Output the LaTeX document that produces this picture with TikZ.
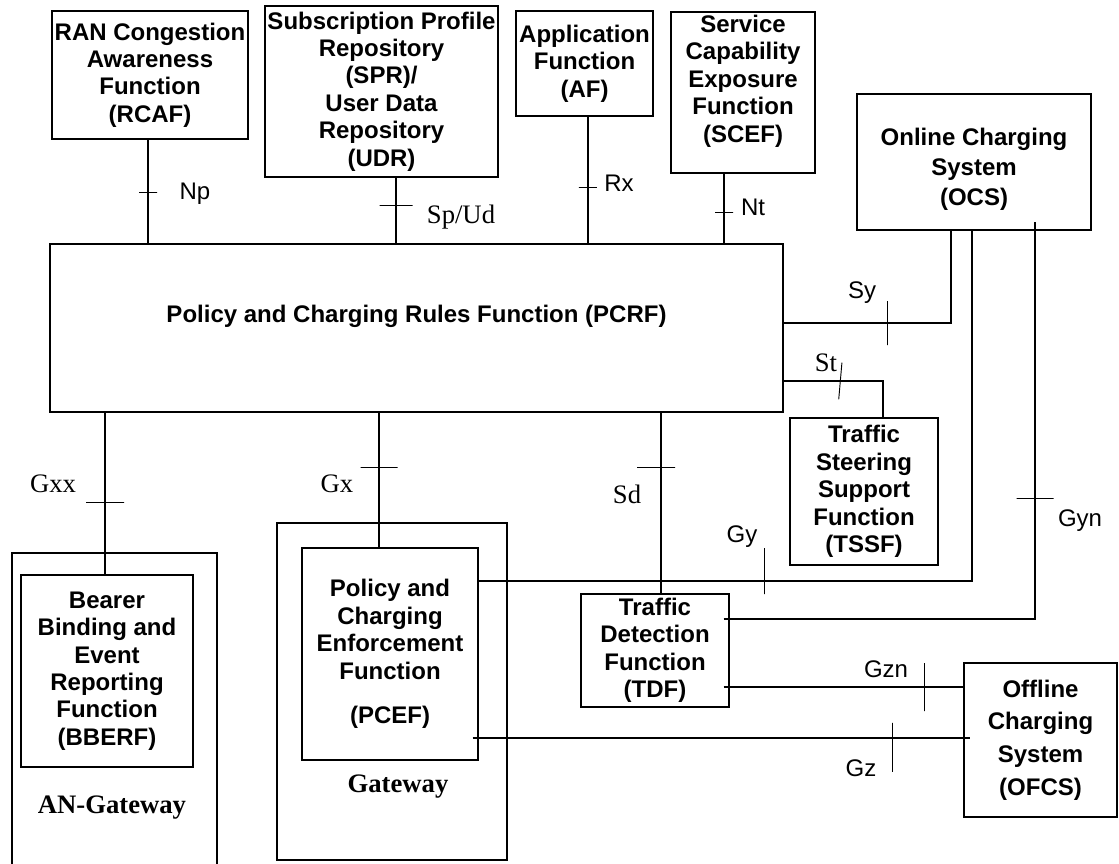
\documentclass[tikz,border=0pt]{standalone}
\usepackage{fontspec}
\setmainfont{Liberation Serif}
\setsansfont{Liberation Sans}
\usepackage{tikz}
\usetikzlibrary{positioning}

\begin{document}
\begin{tikzpicture}[x=0.75pt, y=-0.75pt,
    fn/.style={draw, line width=1.1pt, align=center, inner sep=0pt,
        font=\sffamily\bfseries\fontsize{18}{20.6}\selectfont},
    gwbox/.style={draw, line width=1.1pt, inner sep=0pt},
    link/.style={line width=1.1pt},
    sylink/.style={line width=2.2pt},
    ifs/.style={font=\sffamily\fontsize{18}{20}\selectfont, inner sep=0pt},
    ifr/.style={font=\rmfamily\fontsize{20}{24}\selectfont, inner sep=0pt},
    gwname/.style={font=\rmfamily\bfseries\fontsize{20}{24}\selectfont, inner sep=0pt},
    tickh/.style={draw, line width=0.7pt, minimum width=#1, minimum height=0pt, inner sep=0pt, outer sep=0pt},
    tickv/.style={draw, line width=0.7pt, minimum height=#1, minimum width=0pt, inner sep=0pt, outer sep=0pt}]
                    \useasboundingbox (0,0) rectangle (1119,863);
                    \clip (0,0) rectangle (1119,863);
                    % functions above the PCRF
                    \node [fn, minimum width=147pt, minimum height=96pt] (rcaf) at (150,75) {RAN Congestion\\Awareness\\Function\\(RCAF)};
                    \node [fn, minimum width=174.75pt, minimum height=128.25pt] (spr) at (381.5,91.5) {Subscription Profile\\Repository\\(SPR)/\\User Data\\Repository\\(UDR)};
                    \node [fn, minimum width=102.75pt, minimum height=78.75pt] (af) at (584.5,63.5) {Application\\Function\\(AF)};
                    \node [fn, minimum width=108pt, minimum height=120.75pt] (scef) at (743,92.5) {Service\\Capability\\Exposure\\Function\\(SCEF)\\\mbox{}};
                    \node [fn, minimum width=175.5pt, minimum height=102pt] (ocs) at (974,162) {\mbox{}\\[3pt]Online Charging\\[2pt]System\\[2pt](OCS)};
                    \node [fn, minimum width=549.75pt, minimum height=126pt] (pcrf) at (416.5,328) {Policy and Charging Rules Function (PCRF)\\\mbox{}};
                    \node [fn, minimum width=111pt, minimum height=110.25pt] (tssf) at (864,491.5) {Traffic\\Steering\\Support\\Function\\(TSSF)};
                    % gateways
                    \node [gwbox, minimum width=153.75pt, minimum height=245.25pt] (angw) at (114.5,716.5) {};
                    \node [fn, minimum width=129pt, minimum height=144pt] (bberf) at (107,671) {Bearer\\Binding and\\Event\\Reporting\\Function\\(BBERF)};
                    \node [gwname] (angwname) at (112,808) {AN-Gateway};
                    \node [gwbox, minimum width=172.5pt, minimum height=252.75pt] (gway) at (392,691.5) {};
                    \node [fn, minimum width=132pt, minimum height=159pt] (pcef) at (390,654) {Policy and\\Charging\\Enforcement\\Function\\[13pt](PCEF)};
                    \node [gwname] (gwayname) at (398,787) {Gateway};
                    \node [fn, minimum width=111pt, minimum height=84.75pt] (tdf) at (655,650.5) {Traffic\\Detection\\Function\\(TDF)};
                    \node [fn, minimum width=114.75pt, minimum height=115.5pt] (ofcs) at (1040.5,740) {Offline\\[4pt]Charging\\[4pt]System\\[4pt](OFCS)};

                    % reference points
                    \draw [link] ([xshift=-1.5pt]rcaf.south) -- node[pos=.514, tickh=13.5pt] {} ([xshift=-1.5pt]rcaf.south |- pcrf.north);
                    \draw [link] ([xshift=10.9pt]spr.south) -- node[pos=.418, tickh=24.75pt] {} ([xshift=10.9pt]spr.south |- pcrf.north);
                    \draw [link] ([xshift=2.6pt]af.south) -- node[pos=.5625, tickh=13.5pt] {} ([xshift=2.6pt]af.south |- pcrf.north);
                    \draw [link] ([xshift=-14.25pt]scef.south) -- node[pos=.563, tickh=13.5pt] {} ([xshift=-14.25pt]scef.south |- pcrf.north);
                    \draw [sylink] ([yshift=3.75pt]pcrf.east) -| node[pos=.31, tickv=33pt] {} ([xshift=-17.25pt]ocs.south);
                    \draw [link] ([yshift=-39.75pt]pcrf.east) -| node[pos=.285, tickv=27.75pt, rotate=-5] {} ([xshift=14.25pt]tssf.north);
                    \draw [link] ([xshift=-1.5pt]bberf.north |- pcrf.south) -- node[pos=.558, tickh=28.5pt] {} ([xshift=-1.5pt]bberf.north);
                    \draw [link] ([xshift=-8.25pt]pcef.north |- pcrf.south) -- node[pos=.404, tickh=27.75pt] {} ([xshift=-8.25pt]pcef.north);
                    \draw [link] ([xshift=4.5pt]tdf.north |- pcrf.south) -- node[pos=.302, tickh=28.5pt, xshift=-3.75pt] {} ([xshift=4.5pt]tdf.north);
                    \draw [link] ([yshift=54.75pt]pcef.east) -| node[pos=.29, tickv=34.5pt, yshift=7.5pt] {} ([xshift=-1.5pt]ocs.south);
                    \draw [link] ([shift={(-4.5pt,23.6pt)}]tdf.east) -| node[pos=.652, tickh=27.75pt] {} ([shift={(45.75pt,6.75pt)}]ocs.south);
                    \coordinate (gznstart) at ([shift={(-4.5pt,-27.4pt)}]tdf.east);
                    \draw [link] (gznstart) -- node[pos=.838, tickv=36pt] {} (gznstart -| ofcs.west);
                    \coordinate (gzstart) at ([shift={(-4.5pt,-63pt)}]pcef.east);
                    \draw [link] (gzstart) -- node[pos=.844, tickv=36.75pt, yshift=-7pt] {} ([xshift=5.25pt]gzstart -| ofcs.west);

                    % interface names
                    \node [ifs] (np) at (195,194) {Np};
                    \node [ifr] (spud) at (461,217) {Sp/Ud};
                    \node [ifs] (rx) at (619,183) {Rx};
                    \node [ifs] (nt) at (753,207) {Nt};
                    \node [ifs] (sy) at (862,293) {Sy};
                    \node [ifr] (st) at (826,363) {St};
                    \node [ifr] (gxx) at (53,484) {Gxx};
                    \node [ifr] (gx) at (337,484) {Gx};
                    \node [ifr] (sd) at (627,494) {Sd};
                    \node [ifs] (gy) at (742,537) {Gy};
                    \node [ifs] (gyn) at (1080,521) {Gyn};
                    \node [ifs] (gzn) at (886,669) {Gzn};
                    \node [ifs] (gz) at (861,768) {Gz};
                \end{tikzpicture}
\end{document}
